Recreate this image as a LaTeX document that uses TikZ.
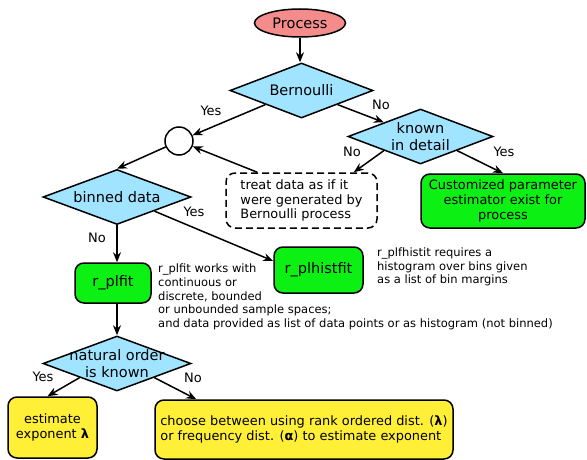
\documentclass[tikz,border=0pt]{standalone}
\usepackage{fontspec}
\setmainfont{DejaVu Sans}
\usetikzlibrary{shapes.geometric,arrows.meta}
\definecolor{procred}{RGB}{245,140,140}
\definecolor{askblue}{RGB}{160,228,255}
\definecolor{fitgreen}{RGB}{12,240,20}
\definecolor{outyellow}{RGB}{255,240,55}
\tikzset{
	arr/.style={-{Stealth[length=10pt,width=8pt]}, line width=1.5pt},
	ask/.style={diamond, draw, line width=1.5pt, fill=askblue, inner sep=0pt, minimum width=#1, minimum height=55pt},
	asktext/.style={align=center, font=\fontsize{14.5}{17}\selectfont},
	box/.style={draw, line width=1.5pt, rounded corners=9pt, align=center, font=\fontsize{12.9}{14.6}\selectfont},
	lbl/.style={font=\fontsize{13}{15}\selectfont, inner sep=0pt},
	note/.style={align=left, anchor=north west, inner sep=0pt, font=\fontsize{11.5}{13.6}\selectfont}
}
\begin{document}
\begin{tikzpicture}[x=1pt, y=-1pt]
	\useasboundingbox (0,0) rectangle (587,460);
	\node[ellipse, draw, line width=1.5pt, fill=procred, minimum width=91pt, minimum height=28pt, inner sep=0pt,
		font=\fontsize{14.5}{17}\selectfont] (proc) at (300,23) {Process};
	\node[ask=143pt] (bern) at (301.5,90.5) {};
	\node[asktext] at (bern) {Bernoulli};
	\node[circle, draw, line width=1.5pt, minimum size=28pt, inner sep=0pt] (join) at (179,141) {};
	\node[ask=145pt] (known) at (420.5,136.5) {};
	\node[asktext] at (known) {known\\in detail};
	\node[box, dash pattern=on 7pt off 4pt, minimum width=151pt, minimum height=55pt, align=left] (treat) at (301.5,200.5) {treat data as if it\\were generated by\\Bernoulli process};
	\node[box, fill=fitgreen, minimum width=164pt, minimum height=54pt] (custom) at (503,201) {Customized parameter\\estimator exist for\\process};
	\node[ask=148pt] (bin) at (117,197) {};
	\node[asktext] at (bin) {binned data};
	\node[box, fill=fitgreen, minimum width=76pt, minimum height=40pt,
		font=\fontsize{14.5}{17}\selectfont] (plfit) at (113,283) {r\_plfit};
	\node[box, fill=fitgreen, minimum width=89pt, minimum height=46pt,
		font=\fontsize{14.5}{17}\selectfont] (hist) at (318.5,270) {r\_plhistfit};
	\node[note] (plfitnote) at (158,264) {r\_plfit works with\\continuous or\\discrete, bounded\\or unbounded sample spaces;\\and data provided as list of data points or as histogram (not binned)};
	\node[note] (histnote) at (377,247.5) {r\_plfhistit requires a\\histogram over bins given\\as a list of bin margins};
	\node[ask=148pt] (order) at (117,363.5) {};
	\node[asktext, font=\fontsize{14.5}{16.5}\selectfont] at (order) {natural order\\is known};
	\node[box, fill=outyellow, minimum width=89pt, minimum height=61pt] (est) at (52.5,427.5) {estimate\\exponent \textbf{λ}};
	\node[box, fill=outyellow, minimum width=298pt, minimum height=59pt, align=left] (choose) at (304,429.5) {choose between using rank ordered dist. (\textbf{λ})\\or frequency dist. (\textbf{α}) to estimate exponent};

	\draw[arr] (proc) -- (proc |- bern.north);
	\draw[arr] (bern.south west) -- (join);
	\draw[arr] (bern.south east) -- (known.north west);
	\draw[arr] (known.south west) -- ([xshift=-24pt]treat.north east);
	\draw[arr] (known.south east) -- (custom.north);
	\draw[arr] ([xshift=32pt]treat.north west) -- (join);
	\draw[arr] (join) -- (bin.north);
	\draw[arr] (bin.south east) -- ([yshift=9pt]hist.west);
	\draw[arr] (bin.south) -- (bin.south |- plfit.north);
	\draw[arr] (order.north |- plfit.south) -- (order.north);
	\draw[arr] (order.south west) -- ([xshift=-5pt]est.north);
	\draw[arr] (order.south east) -- ([xshift=42pt]choose.north west);

	\node[lbl] (yes1) at (211,111) {Yes};
	\node[lbl] (no1) at (381,105) {No};
	\node[lbl] (no2) at (352,152) {No};
	\node[lbl] (yes2) at (504,152) {Yes};
	\node[lbl] (yes3) at (194,212) {Yes};
	\node[lbl] (no3) at (97,238) {No};
	\node[lbl] (yes4) at (43,377) {Yes};
	\node[lbl] (no4) at (193,378) {No};
\end{tikzpicture}
\end{document}
